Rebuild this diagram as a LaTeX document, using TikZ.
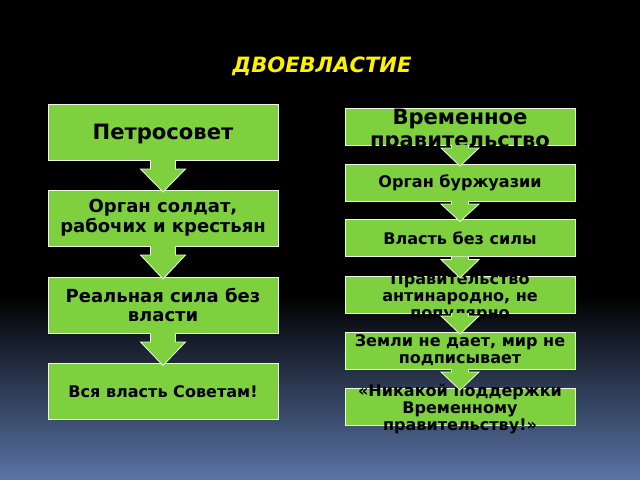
\documentclass[tikz,border=0pt]{standalone}
\usepackage{fontspec}
\setmainfont{DejaVu Sans}
\usetikzlibrary{calc}

\definecolor{boxgreen}{RGB}{126,208,62}
\definecolor{bgblue}{RGB}{90,116,166}

% block arrow from the bottom of #1 to the top of #2
% #3 half shaft, #4 half head, #5 head start below #1
\newcommand{\blockarrow}[5]{%
  \fill[boxgreen] ($(#1.south)+(-#3,0)$) -- ($(#1.south)+(-#3,#5)$) -- ($(#1.south)+(-#4,#5)$)
     -- ($(#2.north)+(0,2)$) -- ($(#1.south)+(#4,#5)$) -- ($(#1.south)+(#3,#5)$) -- ($(#1.south)+(#3,0)$) -- cycle;
  \draw[boxline] ($(#1.south)+(-#3,0)$) -- ($(#1.south)+(-#3,#5)$) -- ($(#1.south)+(-#4,#5)$)
     -- ($(#2.north)+(0,2)$) -- ($(#1.south)+(#4,#5)$) -- ($(#1.south)+(#3,#5)$) -- ($(#1.south)+(#3,0)$);
}

\begin{document}
\begin{tikzpicture}[x=0.025cm, y=-0.025cm]
\tikzset{ inner sep=0pt, outer sep=0pt,
  boxline/.style={draw=white!85!boxgreen, line width=0.6pt},
  bigbox/.style={fill=boxgreen, boxline, minimum width=5.75cm, minimum height=1.4cm},
  smallbox/.style={fill=boxgreen, boxline, minimum width=5.75cm, minimum height=0.925cm},
  bigtext/.style={align=center, font=\fontsize{12.8}{14.2}\selectfont\bfseries},
  smalltext/.style={align=center, font=\fontsize{11.4}{12}\selectfont\bfseries},
}

% background
\fill[black] (0,0) rectangle (640,480);
\shade[top color=black, bottom color=bgblue] (0,295) rectangle (640,480);
\useasboundingbox (0,0) rectangle (640,480);

\node [text=yellow, font=\fontsize{15}{16}\selectfont\bfseries\itshape] (title) at (322,66) {ДВОЕВЛАСТИЕ};

% left column
\node [bigbox] (P1) at (163,132)   {};
\node [bigbox] (P2) at (163,218)   {};
\node [bigbox] (P3) at (163,305)   {};
\node [bigbox] (P4) at (163,391.5) {};

\node [bigtext, font=\fontsize{15}{16}\selectfont\bfseries] (P1t) at ($(P1)+(0,2)$) {Петросовет};
\node [bigtext] (P2t) at (P2) {Орган солдат,\\рабочих и крестьян};
\node [bigtext] (P3t) at (P3) {Реальная сила без\\власти};
\node [smalltext] (P4t) at (P4) {Вся власть Советам!};

% right column
\node [smallbox] (V1) at (460,126.5) {};
\node [smallbox] (V2) at (460,182.5) {};
\node [smallbox] (V3) at (460,238)   {};
\node [smallbox] (V4) at (460,294.5) {};
\node [smallbox] (V5) at (460,350.5) {};
\node [smallbox] (V6) at (460,406.5) {};

\node [bigtext, font=\fontsize{15}{16.3}\selectfont\bfseries] (V1t) at ($(V1)+(0,4)$) {Временное\\правительство};
\node [smalltext] (V2t) at (V2) {Орган буржуазии};
\node [smalltext] (V3t) at (V3) {Власть без силы};
\node [smalltext] (V4t) at ($(V4)+(0,3)$) {Правительство\\антинародно, не\\популярно};
\node [smalltext] (V5t) at (V5) {Земли не дает, мир не\\подписывает};
\node [smalltext] (V6t) at ($(V6)+(0,2.5)$) {«Никакой поддержки\\Временному\\правительству!»};

\blockarrow{P1}{P2}{12.5}{22.5}{9}
\blockarrow{P2}{P3}{12.5}{22.5}{9}
\blockarrow{P3}{P4}{12.5}{22.5}{9}

\blockarrow{V1}{V2}{8.5}{19}{3}
\blockarrow{V2}{V3}{8.5}{19}{3}
\blockarrow{V3}{V4}{8.5}{19}{3}
\blockarrow{V4}{V5}{8.5}{19}{3}
\blockarrow{V5}{V6}{8.5}{19}{3}

\end{tikzpicture}
\end{document}
